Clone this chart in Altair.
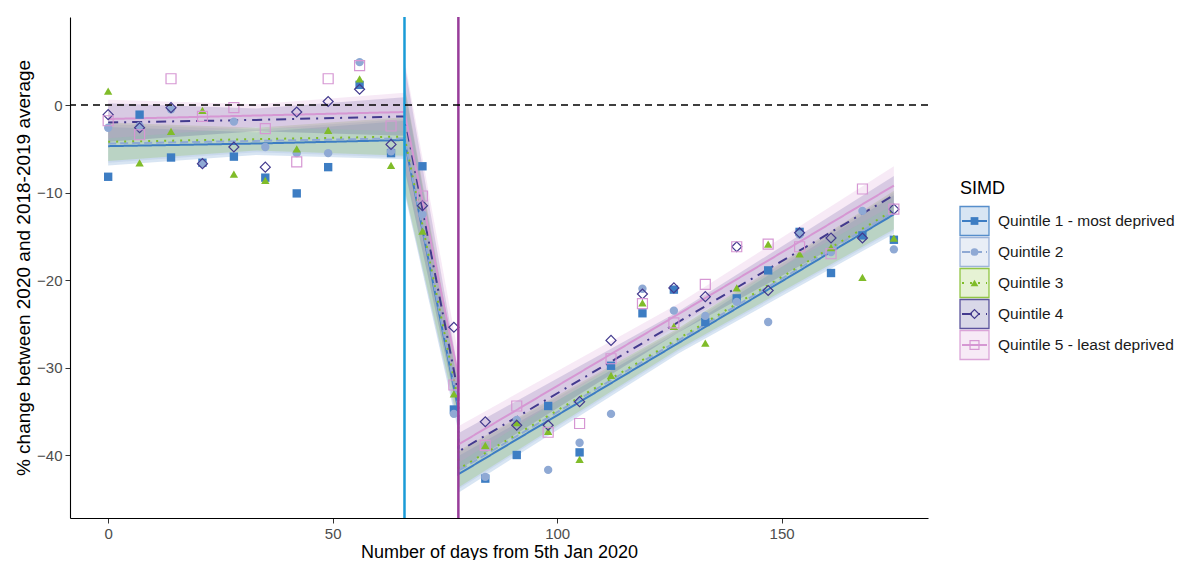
import altair as alt
import pandas as pd

# ---------------- data ----------------
quintiles = ["Quintile 1 - most deprived", "Quintile 2", "Quintile 3",
             "Quintile 4", "Quintile 5 - least deprived"]
colors = ["#3D7DC3", "#8FA9D4", "#80BC29", "#433A8E", "#D697D3"]
shapes = ["square", "circle", "triangle-up", "diamond", "square"]
filled_q = ["Quintile 1 - most deprived", "Quintile 2", "Quintile 3"]
open_q = ["Quintile 4", "Quintile 5 - least deprived"]
dashes = [[1, 0], [8, 4], [2, 6], [10, 6, 2, 6], [1, 0]]

days = [0, 7, 14, 21, 28, 35, 42, 49, 56, 63, 70, 77, 84,
        91, 98, 105, 112, 119, 126, 133, 140, 147, 154, 161, 168, 175]

q1 = [-8.2, -1.1, -6.0, -6.6, -5.9, -8.3, -10.1, -7.1, 2.3, -5.5, -7.0, -34.8, -42.7,
      -40.0, -34.4, -39.7, -29.8, -23.8, -21.1, -24.8, -22.1, -18.9, -14.5, -19.2, -14.9, -15.4]
q2 = [-2.6, -2.4, -0.5, -6.7, -1.9, -4.8, -5.5, -5.5, 4.9, -5.3, -12.5, -35.3, -42.5,
      -36.0, -41.7, -38.6, -35.3, -21.0, -23.5, -24.1, -22.5, -24.8, -14.8, -16.8, -12.1, -16.5]
q3 = [1.6, -6.6, -3.0, -0.6, -7.9, -8.6, -5.0, -2.9, 3.0, -6.9, -14.4, -33.0, -38.9,
      -36.3, -37.3, -40.5, -30.9, -22.6, -25.3, -27.2, -20.9, -15.9, -17.0, -16.3, -19.7, -15.2]
q4 = [-1.1, -2.6, -0.3, -6.7, -4.8, -7.1, -0.8, 0.4, 1.8, -4.5, -11.5, -25.4, -36.2,
      -36.6, -36.6, -33.9, -26.9, -21.6, -20.9, -21.9, -16.2, -21.2, -14.6, -15.2, -15.2, -11.9]
q5 = [-1.8, -3.4, 3.0, -1.3, -0.3, -2.7, -6.5, 3.0, 4.5, -2.4, -10.4, -32.0, -38.9,
      -34.4, -37.4, -36.4, -29.0, -22.7, -24.9, -20.5, -16.2, -15.9, -16.2, -17.0, -9.6, -11.9]
values = [q1, q2, q3, q4, q5]

# fitted segmented trend lines (values read at these days)
fit_days = [0, 33, 66, 78, 78, 127, 175]
fit_q1 = [-4.7, -4.4, -4.0, -34.8, -42.2, -27.2, -12.5]
fit_q2 = [-4.4, -4.1, -3.8, -34.4, -41.8, -26.9, -12.2]
fit_q3 = [-4.2, -3.9, -3.6, -33.9, -41.6, -26.7, -12.0]
fit_q4 = [-2.0, -1.7, -1.3, -33.0, -39.6, -24.8, -10.3]
fit_q5 = [-1.6, -1.2, -0.8, -31.0, -38.8, -23.9, -9.2]
fits = [fit_q1, fit_q2, fit_q3, fit_q4, fit_q5]

# confidence band: which fit points belong to each segment, and half widths there
band_segments = [[0, 1, 2], [2, 3], [4, 5, 6]]
band_half = [[2.2, 1.3, 2.2], [6.0, 2.5], [2.1, 1.2, 2.2]]

vline_days = [66, 78]
vline_colors = ["#1A9BD7", "#983D9A"]
zero_line = [0]

x_ticks = [0, 50, 100, 150]
y_ticks = [-40, -30, -20, -10, 0]
legend_title = "SIMD"

# ---------------- tables ----------------
pts = pd.DataFrame([
    {"q": q, "day": d, "value": v}
    for q, vals in zip(quintiles, values) for d, v in zip(days, vals)
])
fit_df = pd.DataFrame([
    {"q": q, "day": d, "fit": f, "idx": i}
    for q, fv in zip(quintiles, fits) for i, (d, f) in enumerate(zip(fit_days, fv))
])
band_rows = []
for q, fv in zip(quintiles, fits):
    for s, (idxs, hw) in enumerate(zip(band_segments, band_half)):
        for i, h in zip(idxs, hw):
            band_rows.append({"q": q, "seg": s, "day": fit_days[i],
                              "lo": fv[i] - h, "hi": fv[i] + h})
band_df = pd.DataFrame(band_rows)
vl_df = pd.DataFrame({"day": vline_days, "col": vline_colors})
zero_df = pd.DataFrame({"y": zero_line})
leg_df = pd.DataFrame({"q": quintiles})
title_df = pd.DataFrame({"t": [legend_title]})

# ---------------- scales ----------------
FONT = "Liberation Sans"
color_scale = alt.Scale(domain=quintiles, range=colors)
shape_scale = alt.Scale(domain=quintiles, range=shapes)
dash_scale = alt.Scale(domain=quintiles, range=dashes)
xs = alt.Scale(domain=[-8.5, 182.6], nice=False, zero=False)
ys = alt.Scale(domain=[-47.2, 10.06], nice=False, zero=False)

x_axis = alt.Axis(values=x_ticks, title="Number of days from 5th Jan 2020", grid=False,
                  labelPadding=3, titlePadding=2, titleFontSize=18)
y_axis = alt.Axis(values=y_ticks, title="% change between 2020 and 2018-2019 average",
                  grid=False, labelPadding=3, titlePadding=3)

col = alt.Color("q:N", scale=color_scale, legend=None)

bands = alt.Chart(band_df).mark_area(opacity=0.2).encode(
    x=alt.X("day:Q", scale=xs, axis=x_axis),
    y=alt.Y("lo:Q", scale=ys, axis=y_axis),
    y2="hi:Q",
    color=col,
    detail="seg:N",
)

lines = alt.Chart(fit_df).mark_line(strokeWidth=2).encode(
    x=alt.X("day:Q", scale=xs),
    y=alt.Y("fit:Q", scale=ys),
    color=col,
    strokeDash=alt.StrokeDash("q:N", scale=dash_scale, legend=None),
    order="idx:Q",
)

pts_filled = alt.Chart(pts).transform_filter(
    alt.FieldOneOfPredicate(field="q", oneOf=filled_q)
).mark_point(filled=True, size=70, opacity=1).encode(
    x=alt.X("day:Q", scale=xs),
    y=alt.Y("value:Q", scale=ys),
    color=col,
    shape=alt.Shape("q:N", scale=shape_scale, legend=None),
)

pts_open = alt.Chart(pts).transform_filter(
    alt.FieldOneOfPredicate(field="q", oneOf=open_q)
).mark_point(filled=False, size=100, opacity=1, strokeWidth=1.2).encode(
    x=alt.X("day:Q", scale=xs),
    y=alt.Y("value:Q", scale=ys),
    color=col,
    shape=alt.Shape("q:N", scale=shape_scale, legend=None),
)

vlines = alt.Chart(vl_df).mark_rule(strokeWidth=2.5).encode(
    x=alt.X("day:Q", scale=xs),
    stroke=alt.Stroke("col:N", scale=None),
)

zline = alt.Chart(zero_df).mark_rule(strokeWidth=1.3, strokeDash=[7, 5], color="black").encode(
    y=alt.Y("y:Q", scale=ys),
)

main = alt.layer(bands, lines, pts_filled, pts_open, vlines, zline)

# ---------------- legend ----------------
ly = alt.Y("q:N", scale=alt.Scale(domain=quintiles, range=[188.5, 343.5]), axis=None)
leg_fill = alt.Chart(leg_df).mark_point(shape="square", size=841, filled=True,
                                        opacity=0.2).encode(
    x=alt.value(904.5), y=ly, color=col)
leg_border = alt.Chart(leg_df).mark_point(shape="square", size=841, filled=False,
                                          opacity=0.85, strokeWidth=1.3).encode(
    x=alt.value(904.5), y=ly, color=col)
leg_line = alt.Chart(leg_df).mark_rule(strokeWidth=2).encode(
    x=alt.value(892), x2=alt.value(917), y=ly, color=col,
    strokeDash=alt.StrokeDash("q:N", scale=dash_scale, legend=None))
leg_pf = alt.Chart(leg_df).transform_filter(
    alt.FieldOneOfPredicate(field="q", oneOf=filled_q)
).mark_point(filled=True, size=60, opacity=1).encode(
    x=alt.value(904.5), y=ly, color=col,
    shape=alt.Shape("q:N", scale=shape_scale, legend=None))
leg_po = alt.Chart(leg_df).transform_filter(
    alt.FieldOneOfPredicate(field="q", oneOf=open_q)
).mark_point(filled=False, size=80, opacity=1, strokeWidth=1.2).encode(
    x=alt.value(904.5), y=ly, color=col,
    shape=alt.Shape("q:N", scale=shape_scale, legend=None))
leg_text = alt.Chart(leg_df).mark_text(align="left", baseline="middle", fontSize=15.5,
                                       font=FONT, color="#1A1A1A").encode(
    x=alt.value(928), y=ly, text="q:N")
leg_title = alt.Chart(title_df).mark_text(align="left", baseline="middle", fontSize=18,
                                          font=FONT, color="black").encode(
    x=alt.value(890), y=alt.value(172), text="t:N")

legend = alt.layer(leg_fill, leg_border, leg_line, leg_pf, leg_po, leg_text, leg_title)

chart = alt.layer(main, legend).resolve_scale(y="independent").properties(
    width=858, height=501,
    autosize=alt.AutoSizeParams(type="none"),
    padding={"left": 62, "top": 9, "right": 253, "bottom": 42},
    background="white",
).configure_view(stroke=None).configure_axis(
    domainColor="black", domainWidth=1.1, tickColor="#333333", tickSize=5,
    labelColor="#4D4D4D", labelFontSize=15, labelFont=FONT,
    titleColor="black", titleFontSize=19, titleFont=FONT, titleFontWeight="normal",
)

chart.save("out.html", embed_options={"renderer": "svg", "actions": False})
